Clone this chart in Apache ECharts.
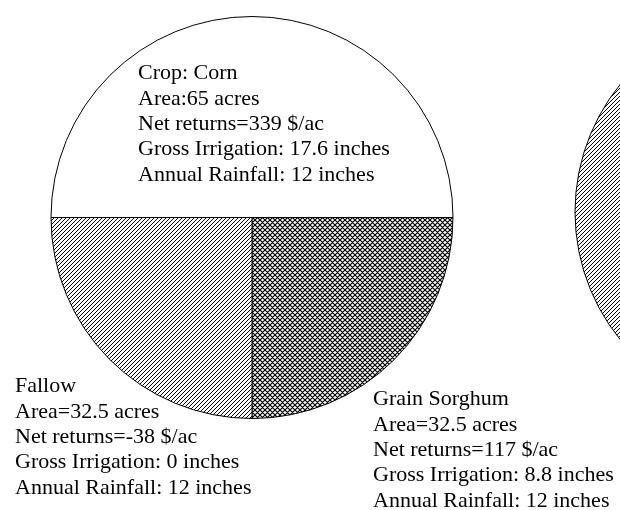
<!DOCTYPE html>
<html>
<head>
<meta charset="utf-8">
<script src="https://cdn.jsdelivr.net/npm/echarts@6/dist/echarts.min.js"></script>
<style>
html,body{margin:0;padding:0;background:#fff;}
#chart{width:620px;height:510px;}
</style>
</head>
<body>
<div id="chart"></div>
<script>
// ---- data ----
var crops = ['Corn', 'Grain Sorghum', 'Fallow'];
var titleLines = ['Crop: Corn', 'Grain Sorghum', 'Fallow'];
var areaSep = [':', '=', '='];
var areaAcres = [65, 32.5, 32.5];
var netReturns = [339, 117, -38];
var grossIrrigation = [17.6, 8.8, 0];
var annualRainfall = [12, 12, 12];
// second (partly visible) scenario pie
var crops2 = ['Fallow'];
var areaAcres2 = [130];

// ---- patterns ----
function diagPattern(size, cross, lw) {
  var c = document.createElement('canvas');
  c.width = size; c.height = size;
  var g = c.getContext('2d');
  g.fillStyle = '#fff';
  g.fillRect(0, 0, size, size);
  g.strokeStyle = '#000';
  g.lineWidth = lw;
  g.beginPath();
  g.moveTo(-1, size + 1); g.lineTo(size + 1, -1);
  g.moveTo(-1, 1); g.lineTo(1, -1);
  g.moveTo(size - 1, size + 1); g.lineTo(size + 1, size - 1);
  if (cross) {
    g.moveTo(-1, -1); g.lineTo(size + 1, size + 1);
    g.moveTo(size - 1, -1); g.lineTo(size + 1, 1);
    g.moveTo(-1, size - 1); g.lineTo(1, size + 1);
  }
  g.stroke();
  return { image: c, repeat: 'repeat' };
}
var fills = {
  'Corn': '#ffffff',
  'Grain Sorghum': diagPattern(5, true, 1.2),
  'Fallow': diagPattern(4, false, 1)
};
var labelPos = {
  'Corn': [138, 61],
  'Grain Sorghum': [373, 387],
  'Fallow': [15, 374]
};

var data1 = crops.map(function (c, i) {
  return {
    name: c,
    value: areaAcres[i],
    itemStyle: { color: fills[c] },
    label: {
      formatter: [
        titleLines[i],
        'Area' + areaSep[i] + areaAcres[i] + ' acres',
        'Net returns=' + netReturns[i] + ' $/ac',
        'Gross Irrigation: ' + grossIrrigation[i] + ' inches',
        'Annual Rainfall: ' + annualRainfall[i] + ' inches'
      ].join('\n')
    }
  };
});
var data2 = crops2.map(function (c, i) {
  return { name: c, value: areaAcres2[i], itemStyle: { color: fills[c] } };
});

var chart = echarts.init(document.getElementById('chart'), null, { renderer: 'canvas' });
chart.setOption({
  backgroundColor: '#ffffff',
  animation: false,
  series: [
    {
      type: 'pie',
      center: [252, 217.5],
      radius: 201,
      startAngle: 180,
      clockwise: true,
      silent: true,
      avoidLabelOverlap: false,
      itemStyle: { borderColor: '#000', borderWidth: 1 },
      emphasis: { disabled: true },
      label: {
        show: true,
        position: 'inside',
        color: '#000',
        fontFamily: 'Liberation Serif',
        fontSize: 22,
        lineHeight: 25.3
      },
      labelLine: { show: false },
      labelLayout: function (p) {
        var pos = labelPos[crops[p.dataIndex]];
        return { x: pos[0], y: pos[1], align: 'left', verticalAlign: 'top' };
      },
      data: data1
    },
    {
      type: 'pie',
      center: [778, 212],
      radius: 203,
      startAngle: 180,
      silent: true,
      itemStyle: { borderColor: '#000', borderWidth: 1 },
      emphasis: { disabled: true },
      label: { show: false },
      labelLine: { show: false },
      data: data2
    }
  ]
});
</script>
</body>
</html>
